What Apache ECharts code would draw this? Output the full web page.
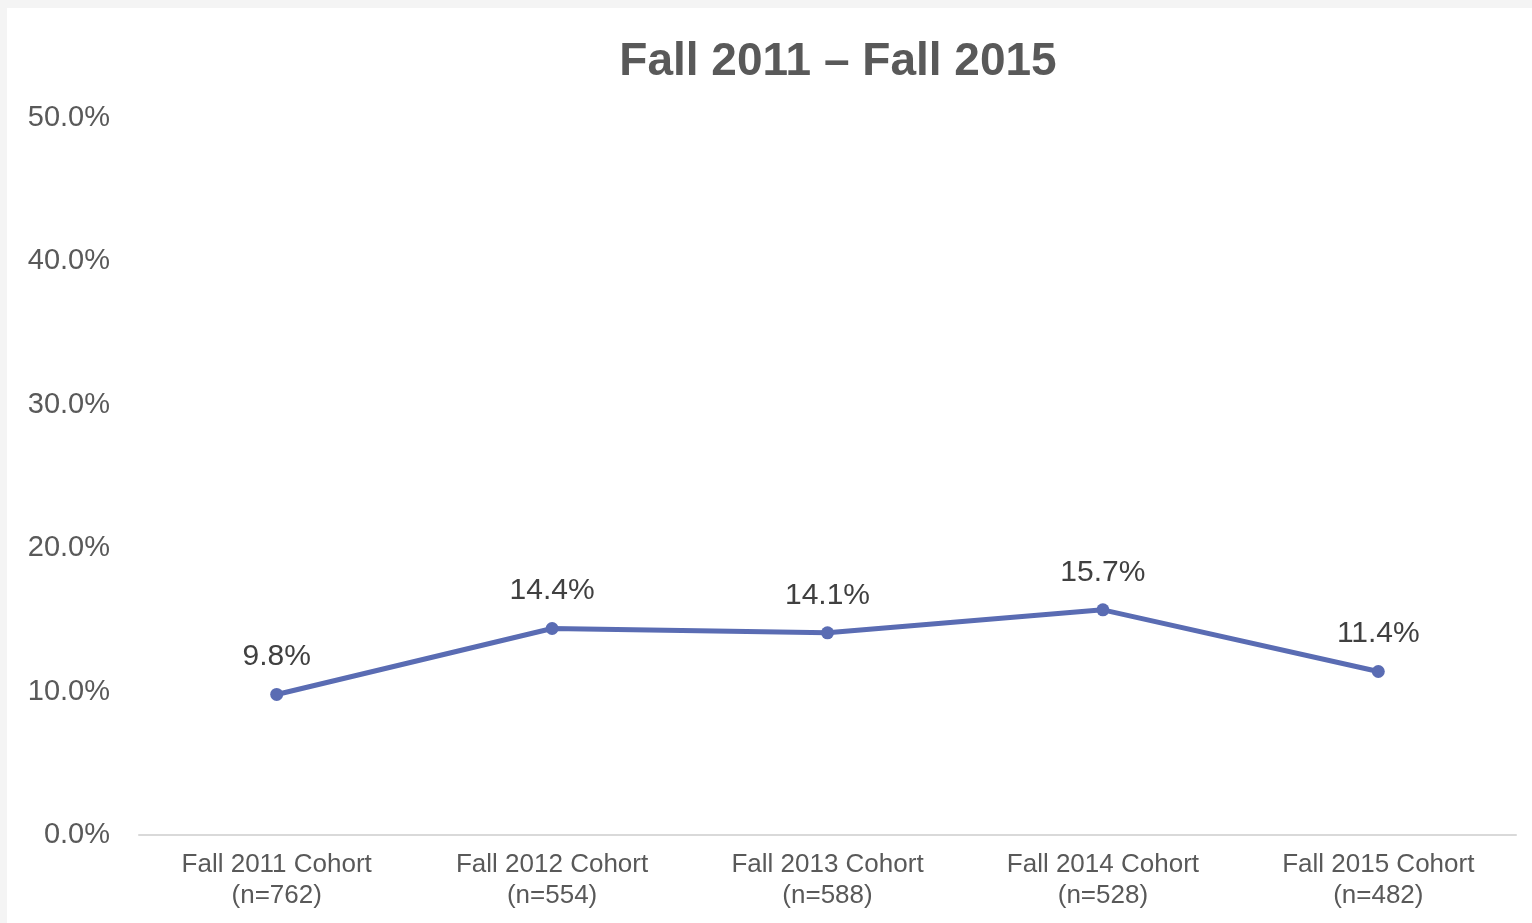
<!DOCTYPE html>
<html>
<head>
<meta charset="utf-8">
<script src="https://cdn.jsdelivr.net/npm/echarts@6/dist/echarts.min.js"></script>
<style>
html,body{margin:0;padding:0;background:#f4f4f4;}
#main{width:1532px;height:923px;}
</style>
</head>
<body>
<div id="main"></div>
<script>
var titleText = 'Fall 2011 – Fall 2015';
var categories = ['Fall 2011 Cohort\n(n=762)', 'Fall 2012 Cohort\n(n=554)', 'Fall 2013 Cohort\n(n=588)', 'Fall 2014 Cohort\n(n=528)', 'Fall 2015 Cohort\n(n=482)'];
var values = [9.8, 14.4, 14.1, 15.7, 11.4];
var yTicks = [0, 10, 20, 30, 40, 50];

var chart = echarts.init(document.getElementById('main'), null, {renderer: 'canvas'});
var font = '"Liberation Sans", Arial, sans-serif';
chart.setOption({
  backgroundColor: '#f4f4f4',
  animation: false,
  graphic: [{
    type: 'rect', z: -10, silent: true,
    shape: {x: 7, y: 8, width: 1525, height: 915},
    style: {fill: '#ffffff'}
  }],
  title: {
    text: titleText, left: 833, top: 34, textAlign: 'center',
    textStyle: {fontFamily: font, fontSize: 46, fontWeight: 'bold', color: '#595959'}
  },
  grid: {left: 139, right: 16, top: 118, bottom: 88, containLabel: false},
  xAxis: {
    type: 'category', data: categories, boundaryGap: true,
    axisLine: {show: true, lineStyle: {color: '#d9d9d9', width: 2}},
    axisTick: {show: false},
    axisLabel: {fontFamily: font, fontSize: 26, color: '#595959', lineHeight: 31, margin: 14, interval: 0}
  },
  yAxis: {
    type: 'value', min: yTicks[0], max: yTicks[yTicks.length - 1], interval: 10,
    splitLine: {show: false},
    axisLine: {show: false}, axisTick: {show: false},
    axisLabel: {fontFamily: font, fontSize: 29, color: '#595959', margin: 29, padding: [4, 0, 0, 0],
      formatter: function (v) { return v.toFixed(1) + '%'; }}
  },
  series: [{
    type: 'line', data: values,
    symbol: 'circle', symbolSize: 13,
    lineStyle: {color: '#5a6cb3', width: 5},
    itemStyle: {color: '#5a6cb3'},
    label: {show: true, position: 'top', distance: 16, fontFamily: font, fontSize: 30, color: '#404040',
      formatter: function (p) { return p.value.toFixed(1) + '%'; }}
  }]
});
</script>
</body>
</html>
